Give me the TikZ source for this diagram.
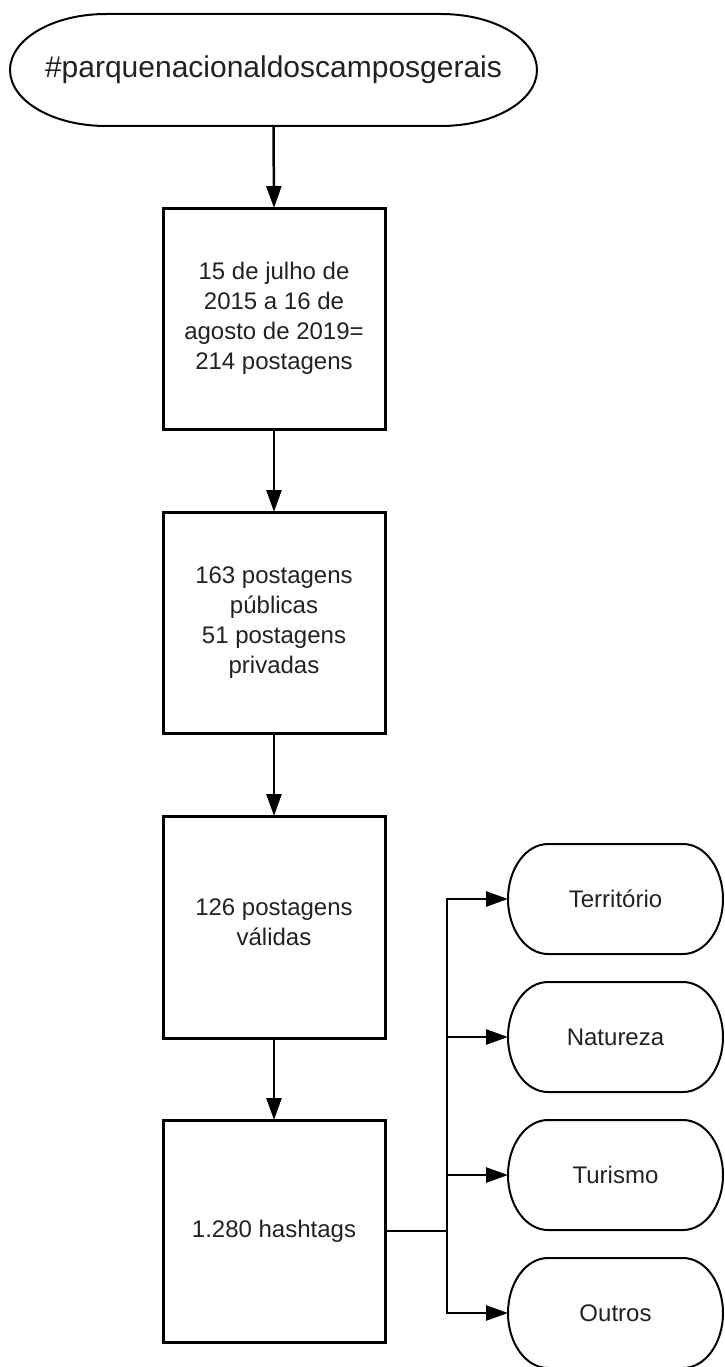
\documentclass[tikz,border=0pt]{standalone}
\usepackage{fontspec}
\setmainfont{Liberation Sans}
\usetikzlibrary{arrows.meta}
\definecolor{txt}{HTML}{222222}
\newcommand\termpath[3]{%
  \draw[line width=2pt] ([xshift=#2]#1.north west) -- ([xshift=-#2]#1.north east)
    arc[start angle=90,end angle=-90,x radius=#2,y radius=#3]
    -- ([xshift=#2]#1.south west)
    arc[start angle=270,end angle=90,x radius=#2,y radius=#3] -- cycle;}
\begin{document}
\begin{tikzpicture}[x=1pt,y=1pt,
  box/.style={draw, line width=3pt, minimum width=222pt, minimum height=221pt,
    align=center, inner sep=0pt, outer sep=0pt, text=txt, font=\fontsize{24}{30}\selectfont},
  term/.style={inner sep=0pt, outer sep=0pt, align=center, text=txt},
  bigterm/.style={term, minimum width=527pt, minimum height=112pt, font=\fontsize{30}{36}\selectfont},
  smallterm/.style={term, minimum width=215pt, minimum height=110pt, font=\fontsize{24}{30}\selectfont},
  conn/.style={line width=2.5pt},
  arr/.style={conn, -{Triangle[length=22pt,width=15pt]}},
]
\clip (0,0) rectangle (724,-1367);
\fill[white] (0,0) rectangle (724,-1367);

\node[bigterm] (top) at (273.5,-70) {\#parquenacionaldoscamposgerais};
\termpath{top}{96pt}{56pt}

\node[box] (b1) at (274,-318.5) {15 de julho de\\2015 a 16 de\\agosto de 2019=\\214 postagens};
\node[box] (b2) at (274,-622.5) {163 postagens\\públicas\\51 postagens\\privadas};
\node[box, minimum height=222pt] (b3) at (274,-927) {126 postagens\\válidas\\[-20pt]};
\node[box, minimum height=222pt] (b4) at (274,-1231) {1.280 hashtags};

\node[smallterm] (t1) at (615.5,-899) {Território};
\node[smallterm] (t2) at (615.5,-1037) {Natureza};
\node[smallterm] (t3) at (615.5,-1175) {Turismo};
\node[smallterm] (t4) at (615.5,-1313) {Outros};
\termpath{t1}{40pt}{55pt}
\termpath{t2}{40pt}{55pt}
\termpath{t3}{40pt}{55pt}
\termpath{t4}{40pt}{55pt}

\draw[arr] (top.south) -- (b1.north);
\draw[arr] (b1.south) -- (b2.north);
\draw[arr] (b2.south) -- (b3.north);
\draw[arr] (b3.south) -- (b4.north);

\draw[conn] (b4.east) -- ++(62,0) coordinate (j);
\draw[arr] (j) |- (t1.west);
\draw[arr] (j) |- (t2.west);
\draw[arr] (j) |- (t3.west);
\draw[arr] (j) |- (t4.west);
\end{tikzpicture}
\end{document}
